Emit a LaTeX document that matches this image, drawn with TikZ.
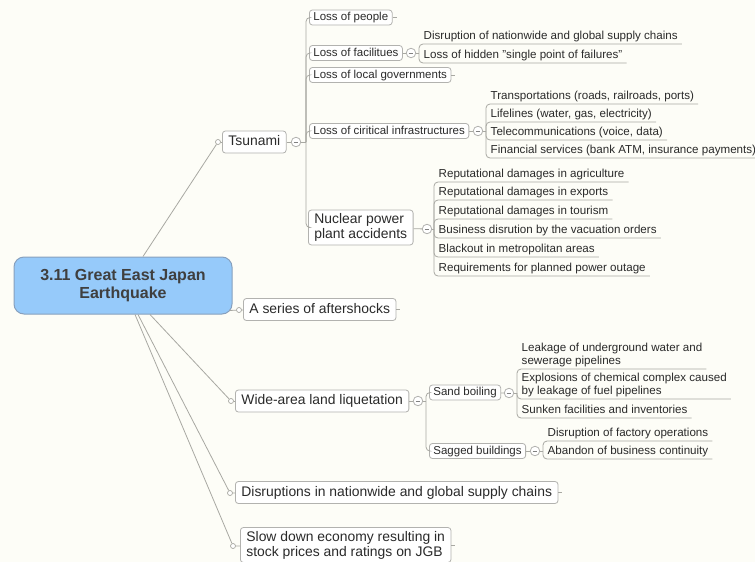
\documentclass[tikz,border=0pt]{standalone}
\usepackage{fontspec}
\setmainfont{Liberation Sans}
\usetikzlibrary{calc}
\definecolor{bgc}{RGB}{253,253,247}
\definecolor{linec}{RGB}{168,168,162}
\definecolor{boxc}{RGB}{178,178,175}
\definecolor{txt}{RGB}{42,42,42}
\definecolor{cblue}{RGB}{150,202,250}
\definecolor{cborder}{RGB}{135,160,190}
\begin{document}
\begin{tikzpicture}[x=1pt,y=-1pt,
  conn/.style={draw=linec, line width=0.8pt, rounded corners=4pt},
  central/.style={draw=cborder, line width=1pt, fill=cblue, rounded corners=10pt,
    minimum width=218pt, minimum height=57pt, align=center,
    font=\fontsize{16}{18.5}\selectfont\bfseries, text=txt!90!white},
  topbox/.style={draw=boxc, line width=0.8pt, fill=white, rounded corners=3pt, text=txt,
    font=\fontsize{13.9}{15}\selectfont, inner xsep=6pt, inner ysep=4.5pt,
    text height=10pt, text depth=3pt, anchor=west},
  topboxtwo/.style={draw=boxc, line width=0.8pt, fill=white, rounded corners=3pt, text=txt,
    font=\fontsize{13.9}{15}\selectfont, inner xsep=6pt, inner ysep=3.5pt,
    align=left, anchor=west},
  subbox/.style={draw=boxc, line width=0.8pt, fill=white, rounded corners=3pt, text=txt,
    font=\fontsize{11.5}{13}\selectfont, inner xsep=4pt, inner ysep=2pt,
    text height=8.5pt, text depth=2.5pt, anchor=west},
  leaf/.style={anchor=south west, text=txt, font=\fontsize{11.6}{13}\selectfont,
    inner xsep=4pt, inner ysep=0.5pt, align=left,
    execute at begin node=\strut, execute at end node=\strut},
  colps/.style={circle, draw=boxc, fill=white, minimum size=9.5pt, inner sep=0pt, line width=0.8pt,
    path picture={\draw[gray, line width=0.9pt]
      ([xshift=-2.3pt]path picture bounding box.center) -- ([xshift=2.3pt]path picture bounding box.center);}},
  dot/.style={circle, draw=linec, fill=white, minimum size=5pt, inner sep=0pt, line width=0.7pt}
]
\fill[bgc] (0,0) rectangle (755,562);
\useasboundingbox (0,0) rectangle (755,562);

% central
\node[central] (eq) at (123,285.5) {3.11 Great East Japan\\Earthquake};

% ---------- Tsunami ----------
\node[topbox] (tsu) at (222,142) {Tsunami};
\node[dot] (tsud) at (218,142) {};
\node[colps] (tsuc) at (296,142) {};
\coordinate (tsuJ) at (306,142);

\node[subbox] (lp) at (309,17.5) {Loss of people};
\node[subbox] (lf) at (309,53) {Loss of facilitues};
\node[colps] (lfc) at (411,53) {};
\coordinate (lfJ) at (419,53);
\node[leaf] (lf1) at (419.5,44) {Disruption of nationwide and global supply chains};
\node[leaf] (lf2) at (419.5,63) {Loss of hidden "single point of failures"};
\node[subbox] (lg) at (309,75) {Loss of local governments};
\node[subbox] (lci) at (309,131) {Loss of ciritical infrastructures};
\node[colps] (lcic) at (478,131) {};
\coordinate (lciJ) at (486,131);
\node[leaf] (lci1) at (486.5,104) {Transportations (roads, railroads, ports)};
\node[leaf] (lci2) at (486.5,122) {Lifelines (water, gas, electricity)};
\node[leaf] (lci3) at (486.5,140) {Telecommunications (voice, data)};
\node[leaf] (lci4) at (486.5,158) {Financial services (bank ATM, insurance payments)};
\node[topboxtwo] (npp) at (308,227.5) {Nuclear power\\plant accidents};
\node[colps] (nppc) at (427,229) {};
\coordinate (nppJ) at (434,229);
\node[leaf] (np1) at (434.5,182) {Reputational damages in agriculture};
\node[leaf] (np2) at (434.5,200) {Reputational damages in exports};
\node[leaf] (np3) at (434.5,219) {Reputational damages in tourism};
\node[leaf] (np4) at (434.5,238) {Business disrution by the vacuation orders};
\node[leaf] (np5) at (434.5,257) {Blackout in metropolitan areas};
\node[leaf] (np6) at (434.5,276) {Requirements for planned power outage};

% ---------- aftershocks ----------
\node[topbox] (aft) at (243,309.5) {A series of aftershocks};
\node[dot] (aftd) at (239,310) {};

% ---------- liquefaction ----------
\node[topbox] (liq) at (235,401) {Wide-area land liquetation};
\node[dot] (liqd) at (231,401) {};
\node[colps] (liqc) at (418,401) {};
\coordinate (liqJ) at (426,401);
\node[subbox] (sb) at (429,392.5) {Sand boiling};
\node[colps] (sbc) at (509,393) {};
\coordinate (sbJ) at (517,393);
\node[leaf] (sb1) at (517.5,369) {Leakage of underground water and\\sewerage pipelines};
\node[leaf] (sb2) at (517.5,399) {Explosions of chemical complex caused\\by leakage of fuel pipelines};
\node[leaf] (sb3) at (517.5,418) {Sunken facilities and inventories};
\node[subbox] (sg) at (429,451) {Sagged buildings};
\node[colps] (sgc) at (535,451) {};
\coordinate (sgJ) at (543,451);
\node[leaf] (sg1) at (543.5,441) {Disruption of factory operations};
\node[leaf] (sg2) at (543.5,459) {Abandon of business continuity};

% ---------- bottom ----------
\node[topbox] (dis) at (235,492.5) {Disruptions in nationwide and global supply chains};
\node[dot] (disd) at (230,493) {};
\node[topboxtwo] (slow) at (240,545) {Slow down economy resulting in\\stock prices and ratings on JGB};
\node[dot] (slowd) at (233,546) {};

% ---------- connectors from central ----------
\draw[conn] ($(eq.north)+(20,0)$) -- (tsud);
\draw[conn] ($(eq.south east)+(-3,-4)$) -- (aftd);
\draw[conn] ($(eq.south)+(27,0)$) -- (liqd);
\draw[conn] ($(eq.south)+(15,0)$) -- (disd);
\draw[conn] ($(eq.south)+(12,0)$) -- (slowd);

\draw[conn] (tsud) -- (tsu);
\draw[conn] (aftd) -- (aft);
\draw[conn] (liqd) -- (liq);
\draw[conn] (disd) -- (dis);
\draw[conn] (slowd) -- (slow);

% Tsunami tree
\draw[conn] (tsu) -- (tsuc);
\draw[conn] (tsuc) -- (tsuJ);
\foreach \n in {lp,lf,lg,lci,npp} \draw[conn] (tsuJ) |- (\n.west);
\draw[conn] (lf) -- (lfc);
\draw[conn] (lfc) -- (lfJ);
\foreach \n in {lf1,lf2} \draw[conn] (lfJ) |- (\n.south east);
\draw[conn] (lci) -- (lcic);
\draw[conn] (lcic) -- (lciJ);
\foreach \n in {lci1,lci2,lci3,lci4} \draw[conn] (lciJ) |- (\n.south east);
\draw[conn] (npp) -- (nppc);
\draw[conn] (nppc) -- (nppJ);
\foreach \n in {np1,np2,np3,np4,np5,np6} \draw[conn] (nppJ) |- (\n.south east);

% liquefaction tree
\draw[conn] (liq) -- (liqc);
\draw[conn] (liqc) -- (liqJ);
\foreach \n in {sb,sg} \draw[conn] (liqJ) |- (\n.west);
\draw[conn] (sb) -- (sbc);
\draw[conn] (sbc) -- (sbJ);
\foreach \n in {sb1,sb2,sb3} \draw[conn] (sbJ) |- (\n.south east);
\draw[conn] (sg) -- (sgc);
\draw[conn] (sgc) -- (sgJ);
\foreach \n in {sg1,sg2} \draw[conn] (sgJ) |- (\n.south east);

% small stubs
\foreach \n in {lp,lg,aft,dis,slow} \draw[conn] (\n.east) -- ++(4,0);
\end{tikzpicture}
\end{document}
